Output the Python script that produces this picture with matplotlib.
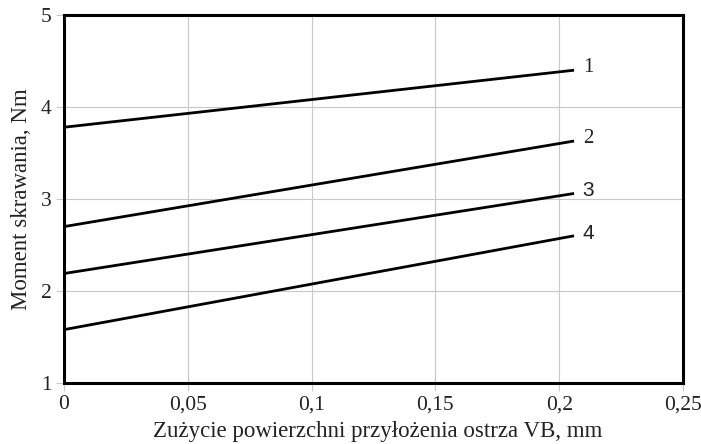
import matplotlib.pyplot as plt
import numpy as np

# tool wear VB, mm (line start and end)
vb = [0.0, 0.206]
# cutting torque, Nm, curves 1-4
moment_1 = [3.78, 4.40]
moment_2 = [2.70, 3.63]
moment_3 = [2.19, 3.06]
moment_4 = [1.58, 2.60]
curve_labels = ["1", "2", "3", "4"]

x_ticks = [0, 0.05, 0.1, 0.15, 0.2, 0.25]
x_ticklabels = ["0", "0,05", "0,1", "0,15", "0,2", "0,25"]
y_ticks = [1, 2, 3, 4, 5]

plt.rcParams["font.family"] = ["Liberation Serif", "DejaVu Serif"]

fig = plt.figure(figsize=(7.01, 4.44), dpi=100)
ax = fig.add_axes([0.0913, 0.1374, 0.883, 0.8288])

series = [moment_1, moment_2, moment_3, moment_4]
label_fonts = ["Liberation Serif", "Liberation Serif", "Liberation Sans", "Liberation Sans"]
for vals, lab, fam in zip(series, curve_labels, label_fonts):
    ax.plot(vb, vals, color="black", lw=2.0, solid_capstyle="butt")
    ax.text(vb[-1] + 0.0035, vals[-1] + 0.03, lab, fontsize=15, family=fam,
            ha="left", va="center", color="#222222")

ax.set_xlim(0, 0.25)
ax.set_ylim(1, 5)
ax.set_xticks(x_ticks)
ax.set_xticklabels(x_ticklabels)
ax.set_yticks(y_ticks)
ax.grid(True, color="#c8c8c8", lw=0.8)
ax.tick_params(axis="both", labelsize=15.5, colors="#c8c8c8", labelcolor="#222222",
               length=6, width=0.8, direction="out", pad=3)
for sp in ax.spines.values():
    sp.set_linewidth(2.2)
    sp.set_color("black")

ax.set_xlabel("Zużycie powierzchni przyłożenia ostrza VB, mm", fontsize=16.5,
              color="#222222", va="top")
ax.xaxis.set_label_coords(0.507, -0.103)
ax.set_ylabel("Moment skrawania, Nm", fontsize=16.5, color="#222222", va="center")
ax.yaxis.set_label_coords(-0.069, 0.5)

fig.savefig("out.png", dpi=100)
